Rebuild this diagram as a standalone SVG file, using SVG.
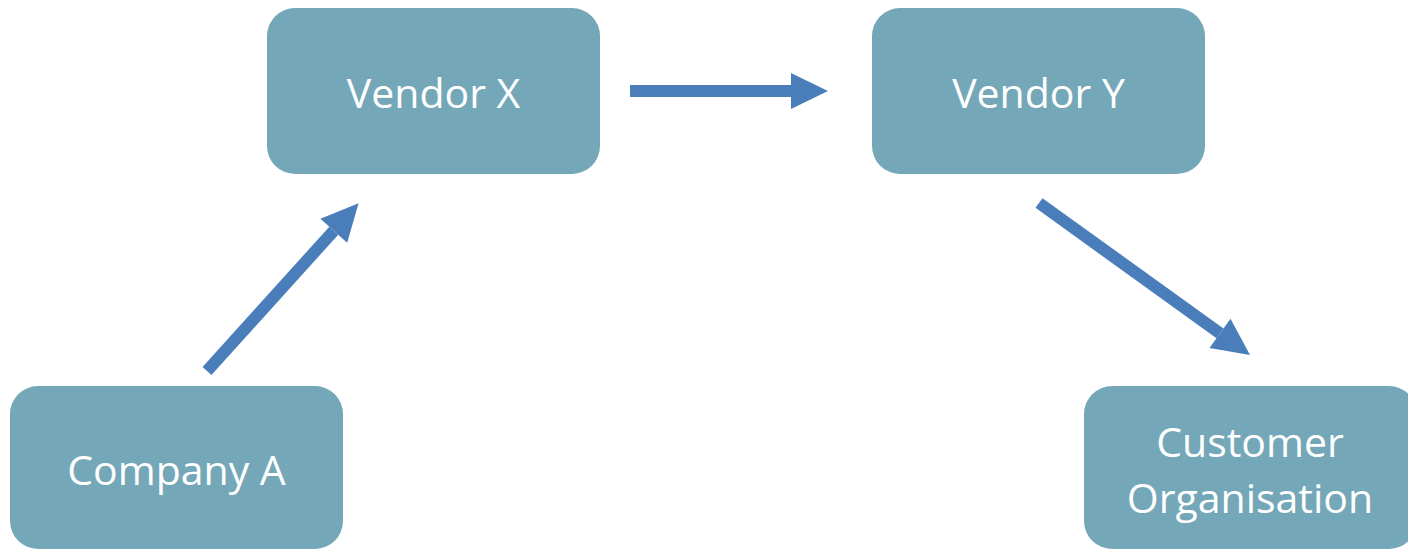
<svg xmlns="http://www.w3.org/2000/svg" width="1408" height="550" viewBox="0 0 1408 550">
  <style>
    .box { fill: #74A7B8; }
    .label { fill: #FFFFFF; font-family: "Open Sans", "Liberation Sans", sans-serif; font-size: 41px; text-anchor: middle; }
    .flow { stroke: #4A7EBB; stroke-width: 12; fill: none; marker-end: url(#head); }
  </style>
  <defs>
    <marker id="head" markerUnits="userSpaceOnUse" markerWidth="37" markerHeight="36" refX="0" refY="18" orient="auto" overflow="visible">
      <path d="M0,0 L37,18 L0,36 Z" fill="#4A7EBB"/>
    </marker>
  </defs>
  <rect width="1408" height="550" fill="#FFFFFF"/>

  <g id="vendor-x">
    <rect class="box" x="267" y="8" width="333" height="166" rx="28"/>
    <text class="label" x="433.5" y="108">Vendor X</text>
  </g>
  <g id="vendor-y">
    <rect class="box" x="872" y="8" width="333" height="166" rx="28"/>
    <text class="label" x="1038.5" y="108">Vendor Y</text>
  </g>
  <g id="company-a">
    <rect class="box" x="10" y="386" width="333" height="163" rx="28"/>
    <text class="label" x="176.5" y="485">Company A</text>
  </g>
  <g id="customer-organisation">
    <rect class="box" x="1084" y="386" width="333" height="163" rx="28"/>
    <text class="label" x="1250" y="457">Customer</text>
    <text class="label" x="1250" y="513">Organisation</text>
  </g>

  <g id="connectors">
    <line class="flow" x1="207" y1="371" x2="333.8" y2="230.7"/>
    <line class="flow" x1="630" y1="91" x2="791" y2="91"/>
    <line class="flow" x1="1039" y1="203" x2="1220" y2="333.4"/>
  </g>
</svg>
